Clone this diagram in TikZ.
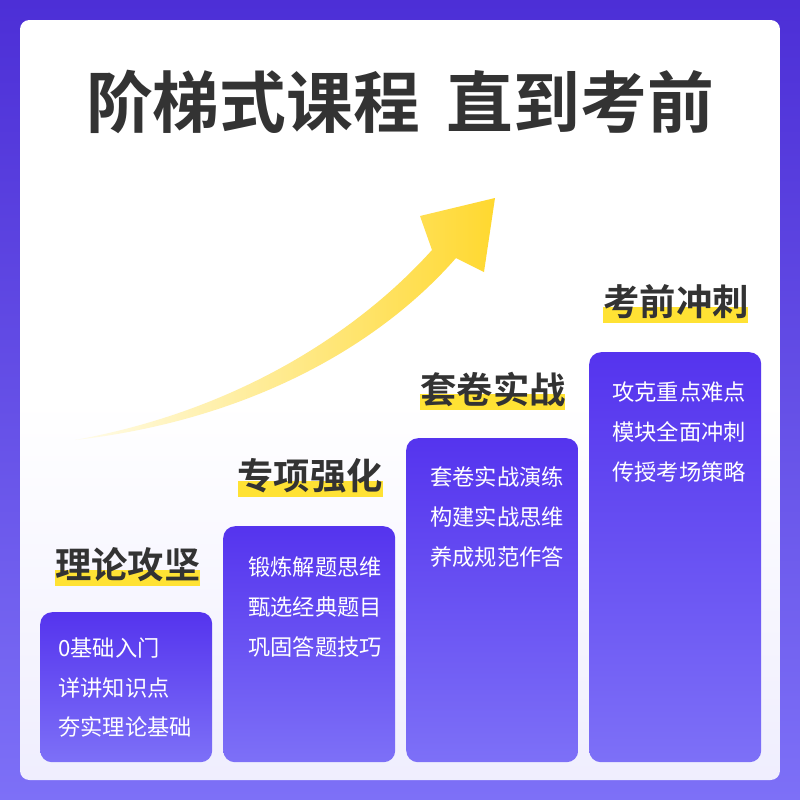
\documentclass[tikz,border=0pt]{standalone}
\usepackage{fontspec}
\setmainfont{Noto Sans CJK SC}
\newfontfamily\cjkb{Noto Sans CJK SC Bold}
\begin{document}
\begin{tikzpicture}[x=0.03cm,y=-0.03cm,
  colbox/.style={rounded corners=10, top color=purpleA, bottom color=purpleB, draw=none},
  item/.style={anchor=west, text=white, font=\fontsize{19}{19}\selectfont, inner sep=0},
  head/.style={text=darkT, font=\cjkb\fontsize{31}{31}\selectfont, inner sep=0},
  hl/.style={fill=hlY, draw=none}]
\definecolor{purpleA}{HTML}{5534EE}
\definecolor{purpleB}{HTML}{7D70F7}
\definecolor{darkT}{HTML}{333333}
\definecolor{hlY}{HTML}{FFE234}
\useasboundingbox (0,0) rectangle (800,800);
\shade[top color=purpleA!90!black, bottom color=purpleB] (0,0) rectangle (800,800);
\shade[rounded corners=8, top color=white, bottom color=white!88!purpleB, middle color=white] (20,20) rectangle (780,780);
\node[text=darkT, font=\cjkb\fontsize{57}{57}\selectfont, inner sep=0] (title) at (400,102) {阶梯式课程\hspace{0.4em}直到考前};
% arrow
\shade[left color=hlY!10, right color=hlY!90!orange]
 (75,440) .. controls (240,410) and (360,330) .. (432,250)
 -- (420,216) -- (495,198) -- (484,272) -- (456,258)
 .. controls (380,345) and (250,420) .. (75,440) -- cycle;
% columns
\node[colbox, minimum width=172*0.03cm, minimum height=150*0.03cm, anchor=north west] (c1) at (40,612) {};
\node[colbox, minimum width=172*0.03cm, minimum height=236*0.03cm, anchor=north west] (c2) at (223,526) {};
\node[colbox, minimum width=172*0.03cm, minimum height=324*0.03cm, anchor=north west] (c3) at (406,438) {};
\node[colbox, minimum width=172*0.03cm, minimum height=410*0.03cm, anchor=north west] (c4) at (589,352) {};
% headings
\fill[hl] (55,570) rectangle (200,586);
\node[head] (h1) at (128,565) {理论攻坚};
\fill[hl] (238,481) rectangle (383,497);
\node[head] (h2) at (310,476) {专项强化};
\fill[hl] (420,394) rectangle (565,410);
\node[head] (h3) at (493,389) {套卷实战};
\fill[hl] (603,307) rectangle (748,323);
\node[head] (h4) at (676,302) {考前冲刺};
% items
\node[item] (a1) at (58,648) {0基础入门};
\node[item] (a2) at (58,688) {详讲知识点};
\node[item] (a3) at (58,727) {夯实理论基础};
\node[item] (b1) at (248,567) {锻炼解题思维};
\node[item] (b2) at (248,607) {甄选经典题目};
\node[item] (b3) at (248,647) {巩固答题技巧};
\node[item] (d1) at (430,477) {套卷实战演练};
\node[item] (d2) at (430,517) {构建实战思维};
\node[item] (d3) at (430,557) {养成规范作答};
\node[item] (e1) at (612,392) {攻克重点难点};
\node[item] (e2) at (612,432) {模块全面冲刺};
\node[item] (e3) at (612,472) {传授考场策略};
\end{tikzpicture}
\end{document}
